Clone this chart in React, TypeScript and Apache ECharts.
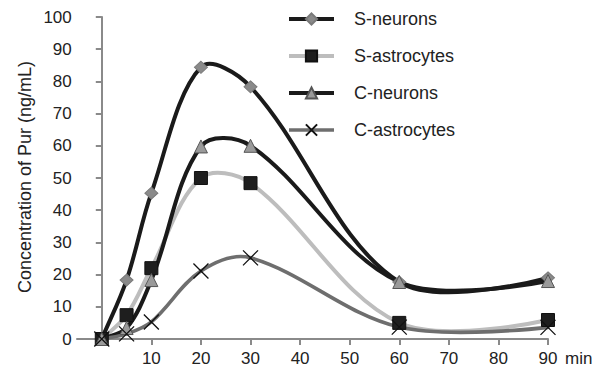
import React, { useEffect, useRef } from "react";
import * as echarts from "echarts";

const times = [0, 5, 10, 20, 30, 60, 90];
const sNeurons = [0, 18.3, 45.3, 84.4, 78.3, 17.7, 19];
const sAstrocytes = [0, 7.4, 22, 50, 48.4, 5, 5.9];
const cNeurons = [0, 3.4, 18.3, 59.8, 60, 17.7, 18];
const cAstrocytes = [0, 1.6, 5.3, 21.1, 25.2, 3.7, 3.6];
const xTicks = [10, 20, 30, 40, 50, 60, 70, 80, 90];
const seriesNames = ["S-neurons", "S-astrocytes", "C-neurons", "C-astrocytes"];
const seriesValues = [sNeurons, sAstrocytes, cNeurons, cAstrocytes];
const lineColors = ["#1a1a1a", "#bdbdbd", "#1a1a1a", "#6e6e6e"];
const yAxisTitle = "Concentration of Pur (ng/mL)";
const xAxisUnit = "min";
const X_MIN = -5;
const X_MAX = 90;

const pairs = (vals: number[]) => times.map((t, i) => [t, vals[i]]);

const SMOOTH = 0.35;

function curveChildren(pts: number[][], color: string, width: number) {
  const n = pts.length;
  const cpIn: number[][] = [];
  const cpOut: number[][] = [];
  for (let i = 0; i < n; i++) {
    const [x, y] = pts[i];
    if (i === n - 1) {
      cpIn[i] = [x, y];
      cpOut[i] = [x, y];
      continue;
    }
    if (i === 0) {
      const [nx, ny] = pts[1];
      cpIn[i] = [x, y];
      cpOut[i] = [x + (nx - x) * SMOOTH, y + (ny - y) * SMOOTH];
      continue;
    }
    const [px, py] = pts[i - 1];
    const [nx, ny] = pts[i + 1];
    const vx = nx - px;
    const vy = ny - py;
    const l0 = Math.hypot(x - px, y - py);
    const l1 = Math.hypot(nx - x, ny - y);
    const r = l0 + l1 > 0 ? l1 / (l0 + l1) : 0.5;
    cpOut[i] = [x + vx * SMOOTH * r, y + vy * SMOOTH * r];
    cpIn[i] = [x - vx * SMOOTH * (1 - r), y - vy * SMOOTH * (1 - r)];
  }
  const children: any[] = [];
  for (let i = 0; i < n - 1; i++) {
    children.push({
      type: "bezierCurve",
      shape: {
        x1: pts[i][0],
        y1: pts[i][1],
        cpx1: cpOut[i][0],
        cpy1: cpOut[i][1],
        cpx2: cpIn[i + 1][0],
        cpy2: cpIn[i + 1][1],
        x2: pts[i + 1][0],
        y2: pts[i + 1][1],
      },
      style: { stroke: color, lineWidth: width, fill: "none", lineCap: "round" },
    });
  }
  return children;
}

export default function App() {
  const ref = useRef<HTMLDivElement>(null);
  useEffect(() => {
    if (!ref.current) return;
    const chart = echarts.init(ref.current, undefined, { renderer: "svg" });
    const font = "Arial, 'Liberation Sans', sans-serif";
    const textColor = "#222";
    const axisColor = "#8a8a8a";
    const gridLeft = 77;
    const gridRight = 55;
    const plotWidth = 603 - gridLeft - gridRight;
    // shift the y axis to sit on x = 0
    const yAxisShift = (plotWidth * (0 - X_MIN)) / (X_MAX - X_MIN);

    const curveSeries = seriesValues.map((vals, k) => ({
      name: seriesNames[k] + " curve",
      type: "custom",
      coordinateSystem: "cartesian2d",
      z: 2,
      silent: true,
      data: [[0, 0]],
      renderItem: (_params: any, api: any) => {
        const pts = times.map((t, i) => api.coord([t, vals[i]]));
        return {
          type: "group",
          children: curveChildren(pts, lineColors[k], k === 3 ? 3.6 : 4),
        };
      },
    }));

    const markerStyles = [
      { symbol: "diamond", symbolSize: [13, 12], itemStyle: { color: "#8a8a8a", borderColor: "#7a7a7a", borderWidth: 1 } },
      { symbol: "rect", symbolSize: 13, itemStyle: { color: "#1e1e1e", borderColor: "#111", borderWidth: 1 } },
      { symbol: "triangle", symbolSize: 13, itemStyle: { color: "#9a9a9a", borderColor: "#555", borderWidth: 1 } },
      {
        symbol: "path://M0,0L10,10M0,10L10,0",
        symbolSize: 15,
        itemStyle: { color: "#111", borderColor: "#111", borderWidth: 1.3 },
      },
    ];

    const markerSeries = seriesValues.map((vals, k) => ({
      name: seriesNames[k],
      type: "line",
      z: 3,
      data: pairs(vals),
      showSymbol: true,
      symbol: markerStyles[k].symbol,
      symbolSize: markerStyles[k].symbolSize,
      lineStyle: { color: lineColors[k], width: 4, opacity: 0 },
      itemStyle: markerStyles[k].itemStyle,
    }));

    chart.setOption({
      animation: false,
      textStyle: { fontFamily: font },
      grid: { left: gridLeft, right: gridRight, top: 17, bottom: 34, containLabel: false, outerBoundsMode: "none" },
      graphic: [
        {
          type: "text",
          x: 25,
          y: 177,
          rotation: Math.PI / 2,
          style: {
            text: yAxisTitle,
            fontSize: 18,
            fontFamily: font,
            fill: textColor,
            align: "center",
            verticalAlign: "middle",
          },
        },
      ],
      legend: {
        orient: "vertical",
        left: 282,
        top: 5,
        itemWidth: 45,
        itemHeight: 14,
        itemGap: 19,
        data: seriesNames.map((name, k) => ({
          name,
          lineStyle: { color: lineColors[k], width: k === 3 ? 3.6 : 4, opacity: 1 },
        })),
        textStyle: { fontSize: 18, color: textColor, fontFamily: font, padding: [0, 0, 0, 15] },
      },
      xAxis: {
        type: "value",
        min: X_MIN,
        max: X_MAX,
        name: xAxisUnit,
        nameLocation: "end",
        nameGap: 17,
        nameTextStyle: { fontSize: 17, color: textColor, verticalAlign: "top", padding: [11, 0, 0, 0] },
        axisLine: { onZero: false, lineStyle: { color: axisColor, width: 2 } },
        axisTick: { show: true, customValues: xTicks, length: 6, lineStyle: { color: axisColor, width: 2 } },
        axisLabel: { customValues: xTicks, fontSize: 17, color: textColor, margin: 11 },
        splitLine: { show: false },
      },
      yAxis: {
        type: "value",
        min: 0,
        max: 100,
        interval: 10,
        offset: -yAxisShift,
        axisLine: { show: true, onZero: false, lineStyle: { color: axisColor, width: 2 } },
        axisTick: { show: true, length: 6, lineStyle: { color: axisColor, width: 2 } },
        axisLabel: { fontSize: 17, color: textColor, margin: 30 },
        splitLine: { show: false },
      },
      series: [...curveSeries, ...markerSeries],
    });
    return () => chart.dispose();
  }, []);
  return (
    <div
      ref={ref}
      style={{ position: "absolute", left: 0, top: 0, width: 603, height: 373 }}
    />
  );
}
